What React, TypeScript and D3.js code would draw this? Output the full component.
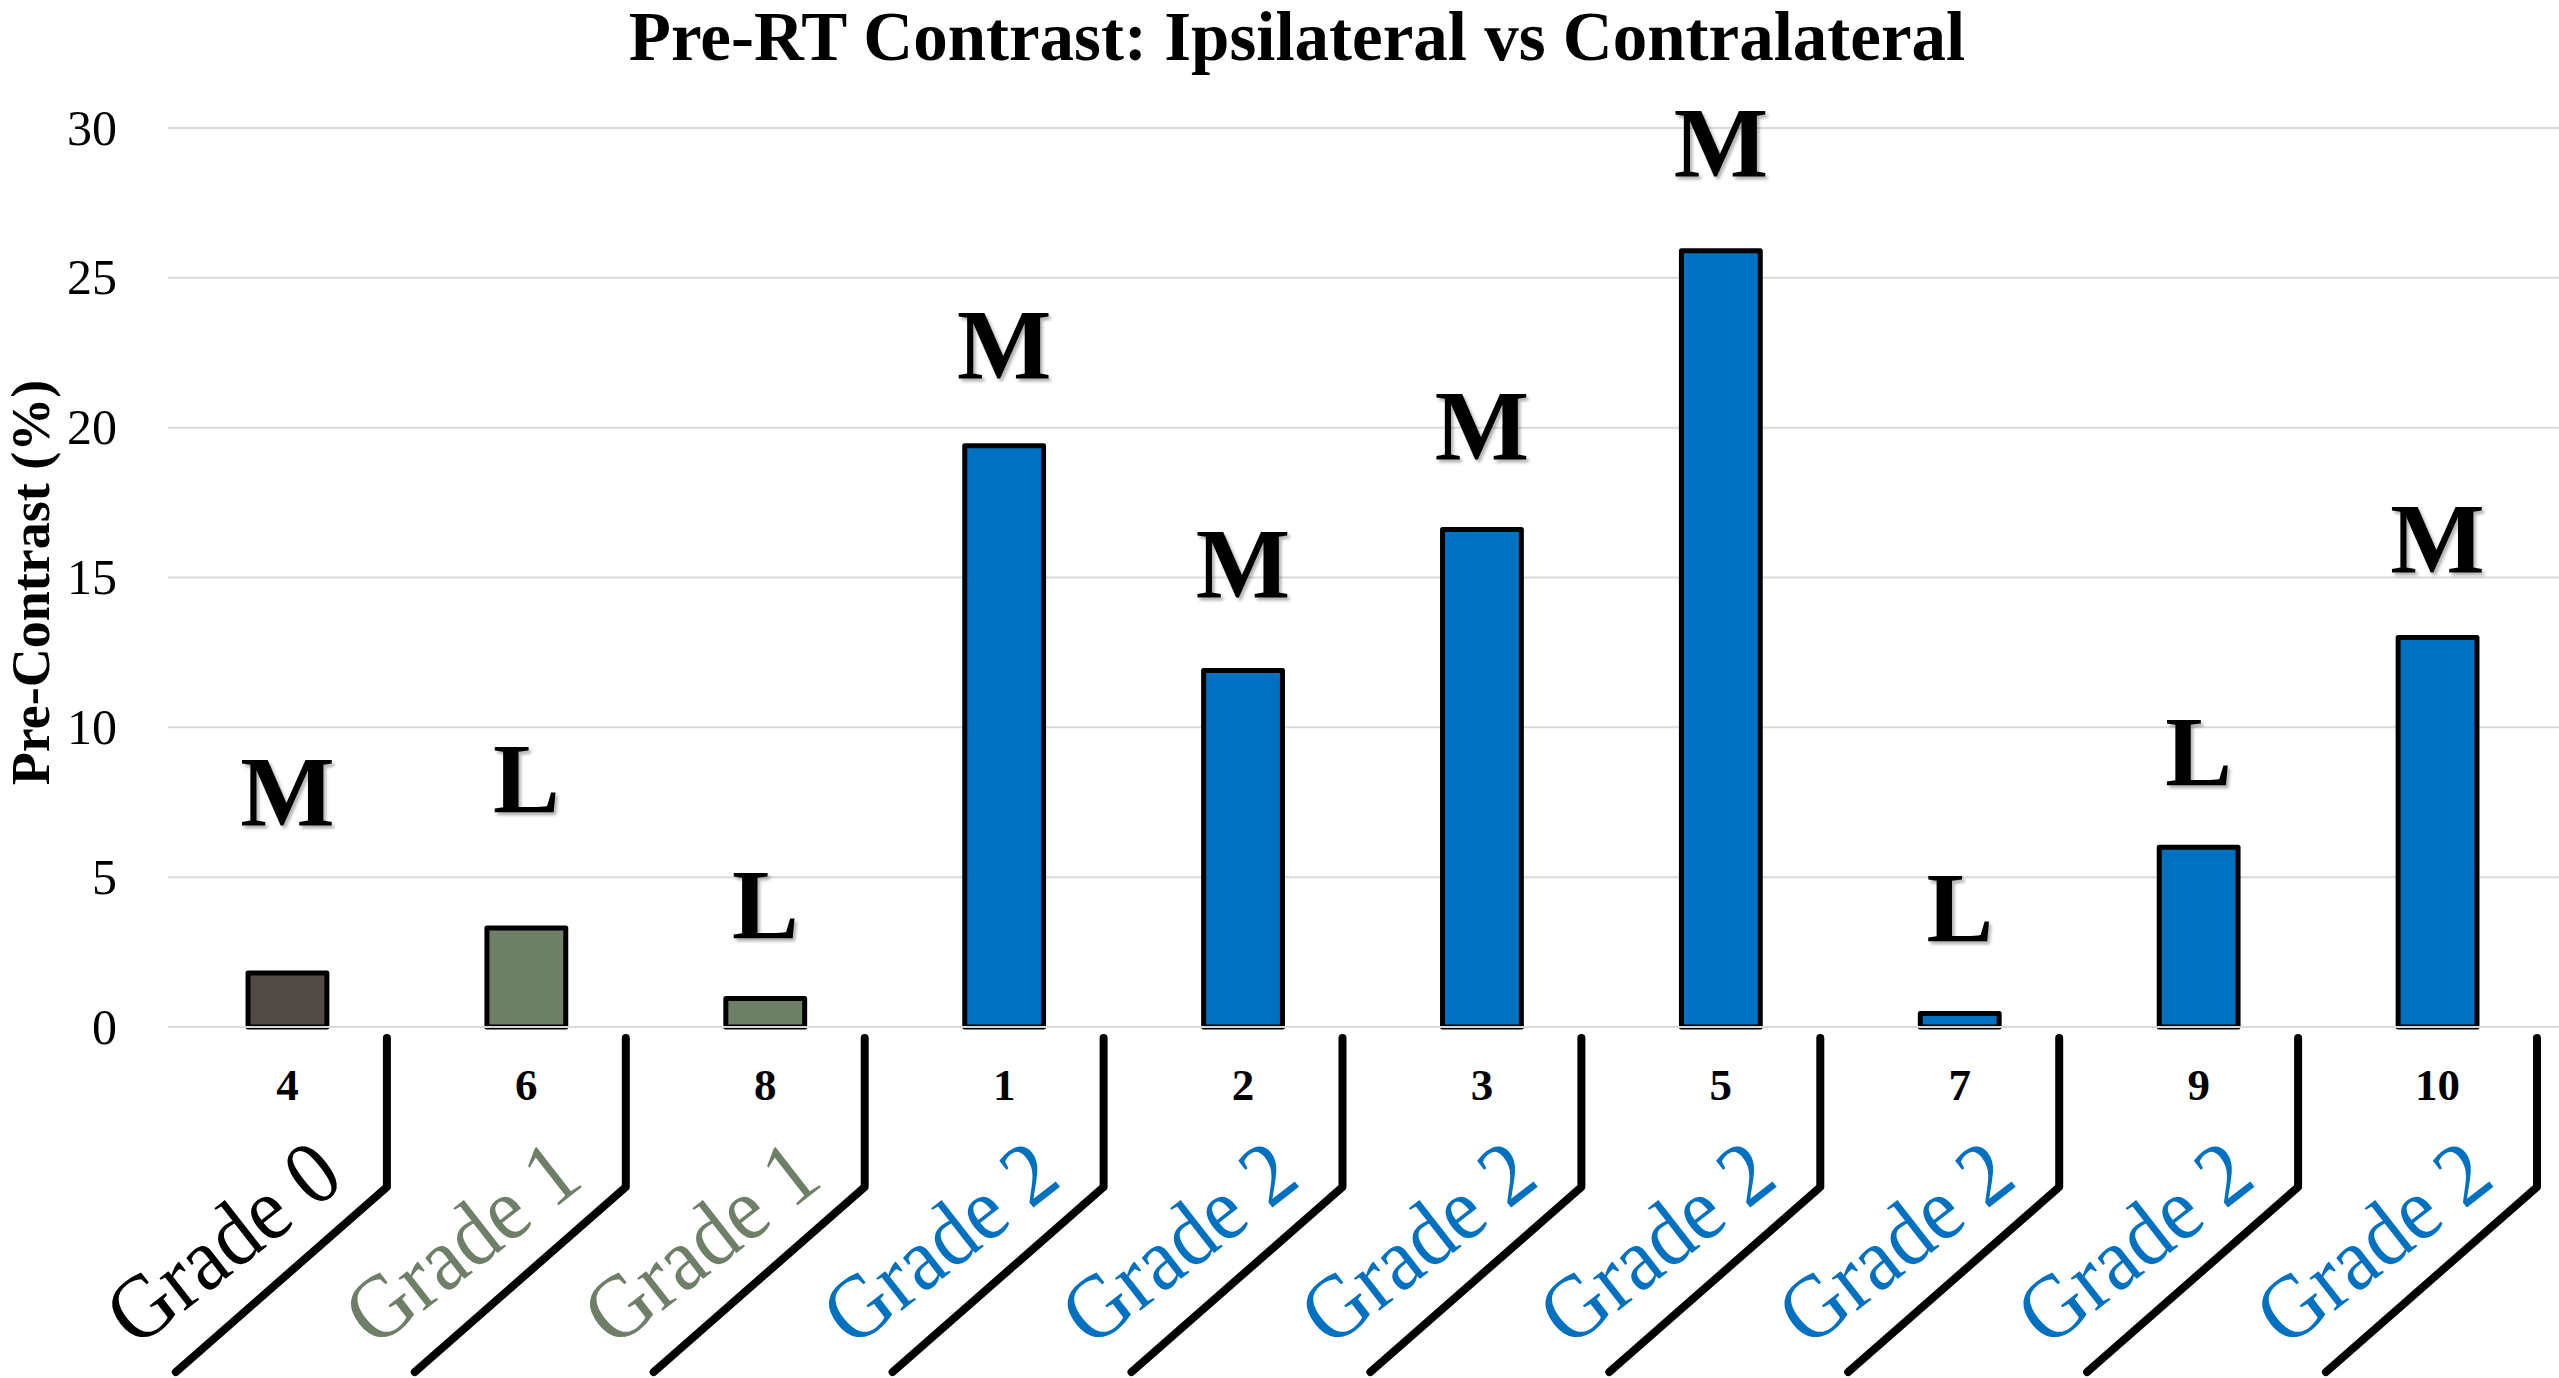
import { useEffect, useRef } from "react"
import * as d3 from "d3"

// patient ids shown under each bar
const patients = ["4", "6", "8", "1", "2", "3", "5", "7", "9", "10"]
const grades = [
  "Grade 0",
  "Grade 1",
  "Grade 1",
  "Grade 2",
  "Grade 2",
  "Grade 2",
  "Grade 2",
  "Grade 2",
  "Grade 2",
  "Grade 2",
]
const preContrast = [1.8, 3.3, 0.95, 19.4, 11.9, 16.6, 25.9, 0.45, 6.0, 13.0]
// M / L annotations and the level (in %) where their baseline sits
const markers = ["M", "L", "L", "M", "M", "M", "M", "L", "L", "M"]
const markerLevels = [6.74, 7.18, 2.97, 21.67, 14.36, 18.95, 28.4, 2.87, 8.06, 15.17]
const yTicks = [0, 5, 10, 15, 20, 25, 30]

const gradeNames = ["Grade 0", "Grade 1", "Grade 2"]
const barFills = ["#524a44", "#6e7f67", "#0070c0"]
const labelFills = ["#000000", "#6e7f67", "#0070c0"]

const WIDTH = 2559
const HEIGHT = 1378
const SERIF = "'Liberation Serif', 'Times New Roman', serif"

export default function App() {
  const svgRef = useRef<SVGSVGElement>(null)

  useEffect(() => {
    document.body.style.margin = "0"
    if (!svgRef.current) return
    const svg = d3.select(svgRef.current)
    svg.selectAll("*").remove()

    const margin = { top: 128, right: 2, bottom: 351, left: 168 }
    const x = d3
      .scaleBand<string>()
      .domain(patients)
      .range([margin.left, WIDTH - margin.right])
      .paddingInner(0.67)
      .paddingOuter(0.335)
    const y = d3
      .scaleLinear()
      .domain([0, 30])
      .range([HEIGHT - margin.bottom, margin.top])
    const step = x.step()
    const gradeColor = d3.scaleOrdinal<string, string>().domain(gradeNames).range(barFills)
    const gradeText = d3.scaleOrdinal<string, string>().domain(gradeNames).range(labelFills)

    // ombre légère des lettres M / L
    const defs = svg.append("defs")
    const shadow = defs
      .append("filter")
      .attr("id", "shadow")
      .attr("x", "-20%")
      .attr("y", "-20%")
      .attr("width", "150%")
      .attr("height", "150%")
    shadow
      .append("feDropShadow")
      .attr("dx", 2.5)
      .attr("dy", 3)
      .attr("stdDeviation", 1.5)
      .attr("flood-color", "#000")
      .attr("flood-opacity", 0.3)

    // title
    svg
      .append("text")
      .attr("x", 1297)
      .attr("y", 60)
      .attr("text-anchor", "middle")
      .attr("font-family", SERIF)
      .attr("font-weight", "bold")
      .attr("font-size", 69)
      .text("Pre-RT Contrast: Ipsilateral vs Contralateral")

    // grid
    svg
      .append("g")
      .selectAll("line")
      .data(yTicks.filter((t) => t > 0))
      .join("line")
      .attr("x1", margin.left)
      .attr("x2", WIDTH)
      .attr("y1", (d) => y(d))
      .attr("y2", (d) => y(d))
      .attr("stroke", "#d9d9d9")
      .attr("stroke-width", 2)

    // y tick labels
    svg
      .append("g")
      .selectAll("text")
      .data(yTicks)
      .join("text")
      .attr("x", 117)
      .attr("y", (d) => y(d))
      .attr("dy", "0.33em")
      .attr("text-anchor", "end")
      .attr("font-family", SERIF)
      .attr("font-size", 50)
      .text((d) => String(d))

    // y axis title
    svg
      .append("text")
      .attr("transform", `translate(49,${(y(0) + y(30)) / 2 + 5}) rotate(-90)`)
      .attr("text-anchor", "middle")
      .attr("font-family", SERIF)
      .attr("font-weight", "bold")
      .attr("font-size", 54)
      .text("Pre-Contrast (%)")

    // bars
    svg
      .append("g")
      .selectAll("rect")
      .data(preContrast)
      .join("rect")
      .attr("x", (_d, i) => x(patients[i]) ?? 0)
      .attr("y", (d) => y(d))
      .attr("width", x.bandwidth())
      .attr("height", (d) => y(0) - y(d))
      .attr("fill", (_d, i) => gradeColor(grades[i]))
      .attr("stroke", "#000")
      .attr("stroke-width", 5)
      .attr("stroke-linejoin", "round")

    // zero line on top of the bar bottoms
    svg
      .append("line")
      .attr("x1", margin.left)
      .attr("x2", WIDTH)
      .attr("y1", y(0))
      .attr("y2", y(0))
      .attr("stroke", "#d9d9d9")
      .attr("stroke-width", 2)

    // M / L letters
    svg
      .append("g")
      .selectAll("text")
      .data(markers)
      .join("text")
      .attr("x", (_d, i) => (x(patients[i]) ?? 0) + x.bandwidth() / 2)
      .attr("y", (_d, i) => y(markerLevels[i]))
      .attr("text-anchor", "middle")
      .attr("font-family", SERIF)
      .attr("font-weight", "bold")
      .attr("font-size", 100)
      .style("filter", "url(#shadow)")
      .text((d) => d)

    // patient ids
    svg
      .append("g")
      .selectAll("text")
      .data(patients)
      .join("text")
      .attr("x", (d) => (x(d) ?? 0) + x.bandwidth() / 2)
      .attr("y", 1100)
      .attr("text-anchor", "middle")
      .attr("font-family", SERIF)
      .attr("font-weight", "bold")
      .attr("font-size", 45)
      .text((d) => d)

    // brackets under each category
    const bracket = d3.line<[number, number]>()
    const groups = svg.append("g")
    patients.forEach((p, i) => {
      const bandStart = (x(p) ?? 0) - (step - x.bandwidth()) / 2
      const vx = bandStart + step - 20
      groups
        .append("path")
        .attr(
          "d",
          bracket([
            [vx, 1038],
            [vx, 1187],
            [vx - 211, 1372],
          ])
        )
        .attr("fill", "none")
        .attr("stroke", "#000")
        .attr("stroke-width", 8)
        .attr("stroke-linecap", "round")
        .attr("stroke-linejoin", "round")

      groups
        .append("text")
        .attr("transform", `translate(${vx - 40},1184) rotate(-38)`)
        .attr("text-anchor", "end")
        .attr("font-family", SERIF)
        .attr("font-size", 90)
        .attr("textLength", 268)
        .attr("lengthAdjust", "spacingAndGlyphs")
        .attr("fill", gradeText(grades[i]))
        .text(grades[i])
    })
  }, [])

  return (
    <svg
      ref={svgRef}
      width={WIDTH}
      height={HEIGHT}
      style={{ display: "block", background: "#fff" }}
    />
  )
}
